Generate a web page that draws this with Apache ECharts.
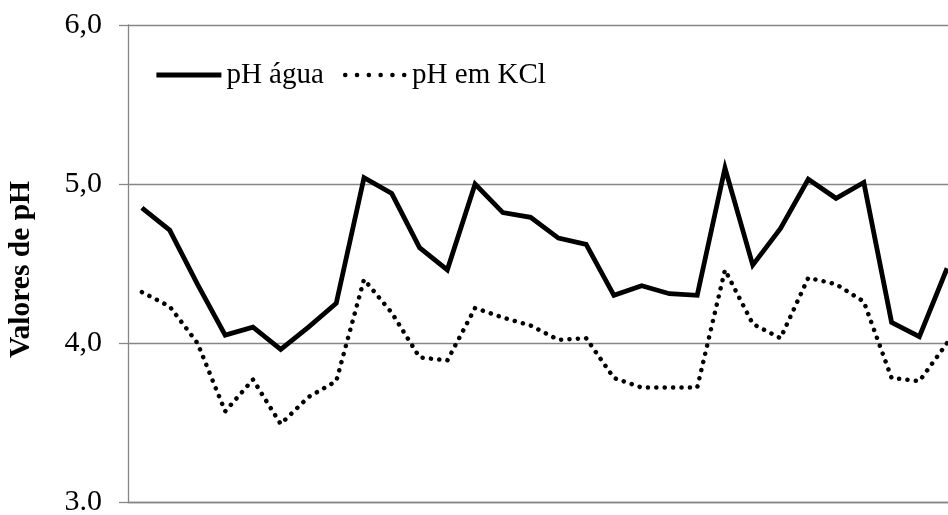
<!DOCTYPE html>
<html>
<head>
<meta charset="utf-8">
<script src="https://cdn.jsdelivr.net/npm/echarts@6/dist/echarts.min.js"></script>
<style>html,body{margin:0;padding:0;background:#fff}#c{width:948px;height:515px}</style>
</head>
<body>
<div id="c"></div>
<script>
const categories = Array.from({length: 30}, (_, i) => String(i + 1));
const phAgua = [4.85, 4.71, 4.37, 4.05, 4.10, 3.96, 4.10, 4.25, 5.04, 4.94, 4.60, 4.46, 5.00, 4.82, 4.79,
                4.66, 4.62, 4.30, 4.36, 4.31, 4.30, 5.10, 4.49, 4.72, 5.03, 4.91, 5.01, 4.13, 4.04, 4.47];
const phKCl = [4.32, 4.23, 4.00, 3.57, 3.77, 3.49, 3.66, 3.76, 4.40, 4.19, 3.91, 3.89, 4.22, 4.16, 4.11,
               4.02, 4.03, 3.78, 3.72, 3.72, 3.72, 4.46, 4.12, 4.03, 4.41, 4.37, 4.26, 3.78, 3.76, 4.00];
const tickValues = [3, 4, 5, 6];
const tickLabels = ['3.0', '4,0', '5,0', '6,0'];
const seriesNames = ['pH água', 'pH em KCl'];
const yTitle = 'Valores de pH';

const FONT = '"Liberation Serif", "Times New Roman", serif';
const GRAY = '#868686';
const dotted = {color: '#000', width: 4.5, type: [0.1, 8.3], cap: 'round'};
const dottedLegend = {color: '#000', width: 4.5, type: [0.1, 11.7], dashOffset: 8.7, cap: 'round'};
const solid = {color: '#000', width: 4.8, type: 'solid', join: 'miter', cap: 'butt'};
const hiddenSymbol = {color: 'rgba(0,0,0,0)', borderColor: 'rgba(0,0,0,0)', borderWidth: 0};

const chart = echarts.init(document.getElementById('c'), null, {renderer: 'canvas'});
chart.setOption({
  animation: false,
  backgroundColor: '#fff',
  color: ['#000', '#000'],
  grid: {left: 128, top: 25, width: 833, height: 477, containLabel: false, outerBoundsMode: 'none'},
  legend: {
    left: 154, top: 60, padding: 0,
    itemWidth: 65, itemHeight: 14, itemGap: 16,
    textStyle: {fontFamily: FONT, fontSize: 29, color: '#000', lineHeight: 30},
    data: [
      {name: seriesNames[0], lineStyle: solid, itemStyle: hiddenSymbol},
      {name: seriesNames[1], lineStyle: dottedLegend, itemStyle: hiddenSymbol}
    ]
  },
  xAxis: {
    type: 'category', data: categories, boundaryGap: true,
    axisLine: {show: true, lineStyle: {color: GRAY, width: 1.3}},
    axisTick: {show: false}, axisLabel: {show: false}, splitLine: {show: false}
  },
  yAxis: {
    type: 'value', min: 3, max: 6, interval: 1,
    name: yTitle, nameLocation: 'middle', nameGap: 92, nameRotate: 90,
    nameTextStyle: {fontFamily: FONT, fontSize: 29.5, fontWeight: 'bold', color: '#000', padding: [0, 12, 0, 0]},
    axisLine: {show: true, lineStyle: {color: GRAY, width: 1.3}},
    axisTick: {show: true, length: 9, inside: false, lineStyle: {color: GRAY, width: 1.3}},
    splitLine: {show: true, lineStyle: {color: GRAY, width: 1.3}},
    axisLabel: {
      fontFamily: FONT, fontSize: 30, color: '#000', margin: 26,
      formatter: v => tickLabels[tickValues.indexOf(v)]
    }
  },
  series: [
    {name: seriesNames[0], type: 'line', data: phAgua, symbol: 'none', lineStyle: solid, itemStyle: {color: '#000'}},
    {name: seriesNames[1], type: 'line', data: phKCl, symbol: 'none', lineStyle: dotted, itemStyle: {color: '#000'}}
  ]
});
</script>
</body>
</html>
